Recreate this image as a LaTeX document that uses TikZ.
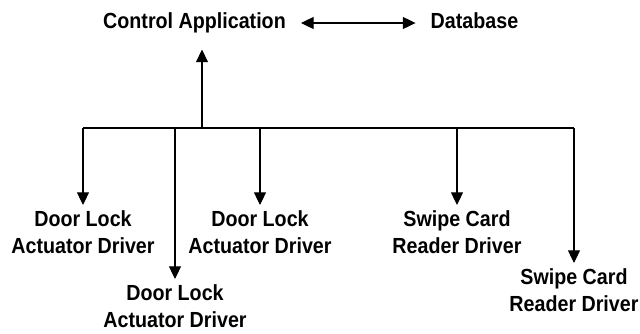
\documentclass[tikz,border=0pt]{standalone}
\usepackage{fontspec}
\setmainfont{Liberation Sans}[FakeStretch=0.9]
\usetikzlibrary{arrows.meta}
\usetikzlibrary{positioning}

\begin{document}
\begin{tikzpicture}[x=0.75pt,y=0.75pt,yscale=-1,xscale=1,
  line width=0.8pt,
  arr/.style={-{Triangle[length=9.5pt,width=9pt]}},
  dbl/.style={{Triangle[length=9.5pt,width=9pt]}-{Triangle[length=9.5pt,width=9pt]}},
  toplbl/.style={font=\fontsize{16.4}{21}\selectfont\bfseries, inner xsep=11pt, inner ysep=12pt, text height=11.5pt, text depth=3.5pt},
  drvlbl/.style={font=\fontsize{16.4}{20.8}\selectfont\bfseries, align=center, inner sep=3.6pt, anchor=north}]
\useasboundingbox (0,0) rectangle (640,333);

% Top row
\node [toplbl] (app) at (194.5,23) {Control Application};
\node [toplbl] (db) at (474.5,23) {Database};
\draw [dbl] (app.east) -- (db.west);

% Bus
\coordinate (b1) at (83,128);
\coordinate (b2) at (175,128);
\coordinate (up) at (202,128);
\coordinate (b3) at (260,128);
\coordinate (b4) at (457,128);
\coordinate (b5) at (574,128);
\draw (b1) -- (b5);
\draw [arr] (up) -- (up |- app.south);

% Drivers
\node [drvlbl] (d1) at (83,205) {Door Lock\\Actuator Driver};
\node [drvlbl] (d2) at (175,279) {Door Lock\\Actuator Driver};
\node [drvlbl] (d3) at (260,205) {Door Lock\\Actuator Driver};
\node [drvlbl] (s1) at (457,205) {Swipe Card\\Reader Driver};
\node [drvlbl] (s2) at (574,263) {Swipe Card\\Reader Driver};

\draw [arr] (b1) -- (d1.north);
\draw [arr] (b2) -- (d2.north);
\draw [arr] (b3) -- (d3.north);
\draw [arr] (b4) -- (s1.north);
\draw [arr] (b5) -- (s2.north);

\end{tikzpicture}
\end{document}
